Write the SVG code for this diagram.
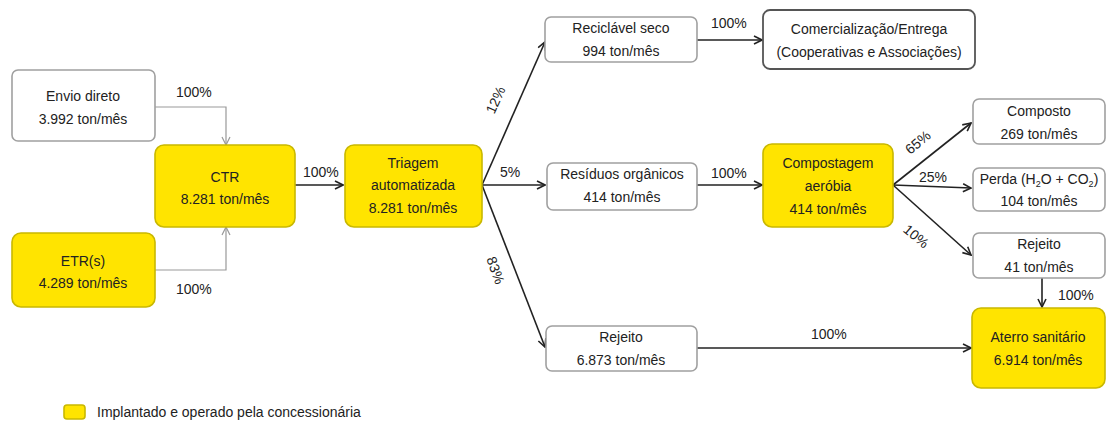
<svg xmlns="http://www.w3.org/2000/svg" width="1108" height="423" viewBox="0 0 1108 423">
<style>
.t{font-family:"Liberation Sans Narrow","Liberation Sans",Arial,sans-serif;font-size:14px;fill:#222;text-anchor:middle}
.l{font-family:"Liberation Sans Narrow","Liberation Sans",Arial,sans-serif;font-size:14px;fill:#222}
.w{fill:#fff;stroke:#a0a0a0;stroke-width:1.6}
.d{fill:#fff;stroke:#555;stroke-width:1.8}
.y{fill:#ffe400;stroke:#c9b800;stroke-width:1.6}
.c{fill:none;stroke:#222;stroke-width:1.6}
.g{fill:none;stroke:#999;stroke-width:1.2}
</style>
<defs>
<marker id="a" markerWidth="10" markerHeight="10" refX="9" refY="5" orient="auto" markerUnits="userSpaceOnUse"><path d="M1,1 L9,5 L1,9" fill="none" stroke="#222" stroke-width="1.6"/></marker>
<marker id="ag" markerWidth="10" markerHeight="10" refX="9" refY="5" orient="auto" markerUnits="userSpaceOnUse"><path d="M1,1 L9,5 L1,9" fill="none" stroke="#999" stroke-width="1.2"/></marker>
</defs>
<g id="connectors">
<path class="g" d="M155,107 H226 V145" marker-end="url(#ag)"/>
<path class="g" d="M155,270 H226 V227" marker-end="url(#ag)"/>
<path class="c" d="M295,185 H343" marker-end="url(#a)"/>
<path class="c" d="M482,185 L545,42" marker-end="url(#a)"/>
<path class="c" d="M482,185 H545" marker-end="url(#a)"/>
<path class="c" d="M482,185 L545,347" marker-end="url(#a)"/>
<path class="c" d="M697,40 H762" marker-end="url(#a)"/>
<path class="c" d="M697,185 H762" marker-end="url(#a)"/>
<path class="c" d="M893,185 L971,123" marker-end="url(#a)"/>
<path class="c" d="M893,185 L971,188" marker-end="url(#a)"/>
<path class="c" d="M893,185 L971,255" marker-end="url(#a)"/>
<path class="c" d="M697,348 H971" marker-end="url(#a)"/>
<path class="c" d="M1042,278 V307" marker-end="url(#a)"/>
<text class="l" x="176" y="97">100%</text>
<text class="l" x="176" y="294">100%</text>
<text class="l" x="303" y="177">100%</text>
<text class="l" transform="translate(500,102) rotate(-66)" text-anchor="middle">12%</text>
<text class="l" x="500" y="177">5%</text>
<text class="l" transform="translate(491,272) rotate(70)" text-anchor="middle">83%</text>
<text class="l" x="711" y="28">100%</text>
<text class="l" x="711" y="178">100%</text>
<text class="l" transform="translate(921,146) rotate(-40)" text-anchor="middle">65%</text>
<text class="l" x="919" y="182">25%</text>
<text class="l" transform="translate(913,240) rotate(40)" text-anchor="middle">10%</text>
<text class="l" x="811" y="339">100%</text>
<text class="l" x="1058" y="300">100%</text>
</g>
<g id="envio"><rect class="w" x="12" y="70" width="143" height="71" rx="6"/><text class="t" x="83" y="101">Envio direto</text><text class="t" x="83" y="124">3.992 ton/mês</text></g>
<g id="ctr"><rect class="y" x="155" y="145" width="140" height="82" rx="9"/><text class="t" x="225" y="182">CTR</text><text class="t" x="225" y="204">8.281 ton/mês</text></g>
<g id="etr"><rect class="y" x="12" y="233" width="143" height="74" rx="9"/><text class="t" x="83" y="266">ETR(s)</text><text class="t" x="83" y="288">4.289 ton/mês</text></g>
<g id="triagem"><rect class="y" x="345" y="145" width="137" height="82" rx="9"/><text class="t" x="413" y="168">Triagem</text><text class="t" x="413" y="190">automatizada</text><text class="t" x="413" y="213">8.281 ton/mês</text></g>
<g id="reciclavel"><rect class="w" x="545" y="17" width="152" height="45" rx="6"/><text class="t" x="621" y="33">Reciclável seco</text><text class="t" x="621" y="56">994 ton/mês</text></g>
<g id="organicos"><rect class="w" x="547" y="163" width="150" height="47" rx="6"/><text class="t" x="622" y="179">Resíduos orgânicos</text><text class="t" x="622" y="202">414 ton/mês</text></g>
<g id="rejeito1"><rect class="w" x="546" y="326" width="151" height="45" rx="6"/><text class="t" x="621" y="342">Rejeito</text><text class="t" x="621" y="365">6.873 ton/mês</text></g>
<g id="comercial"><rect class="d" x="763" y="10" width="212" height="59" rx="7"/><text class="t" x="869" y="34">Comercialização/Entrega</text><text class="t" x="869" y="57">(Cooperativas  e Associações)</text></g>
<g id="compostagem"><rect class="y" x="763" y="144" width="130" height="83" rx="9"/><text class="t" x="828" y="168">Compostagem</text><text class="t" x="828" y="191">aeróbia</text><text class="t" x="828" y="214">414 ton/mês</text></g>
<g id="composto"><rect class="w" x="973" y="99" width="132" height="45" rx="6"/><text class="t" x="1039" y="116">Composto</text><text class="t" x="1039" y="139">269 ton/mês</text></g>
<g id="perda"><rect class="w" x="973" y="168" width="132" height="43" rx="6"/><text class="t" x="1039" y="184">Perda (H<tspan font-size="9" dy="3">2</tspan><tspan dy="-3">O + CO</tspan><tspan font-size="9" dy="3">2</tspan><tspan dy="-3">)</tspan></text><text class="t" x="1039" y="206">104 ton/mês</text></g>
<g id="rejeito2"><rect class="w" x="973" y="233" width="132" height="45" rx="6"/><text class="t" x="1039" y="249">Rejeito</text><text class="t" x="1039" y="272">41 ton/mês</text></g>
<g id="aterro"><rect class="y" x="972" y="308" width="133" height="80" rx="9"/><text class="t" x="1038" y="342">Aterro sanitário</text><text class="t" x="1038" y="365">6.914 ton/mês</text></g>
<g id="legenda"><rect class="y" x="64" y="405" width="21" height="14" rx="3"/><text class="l" x="97" y="417">Implantado e operado pela concessionária</text></g>
</svg>
